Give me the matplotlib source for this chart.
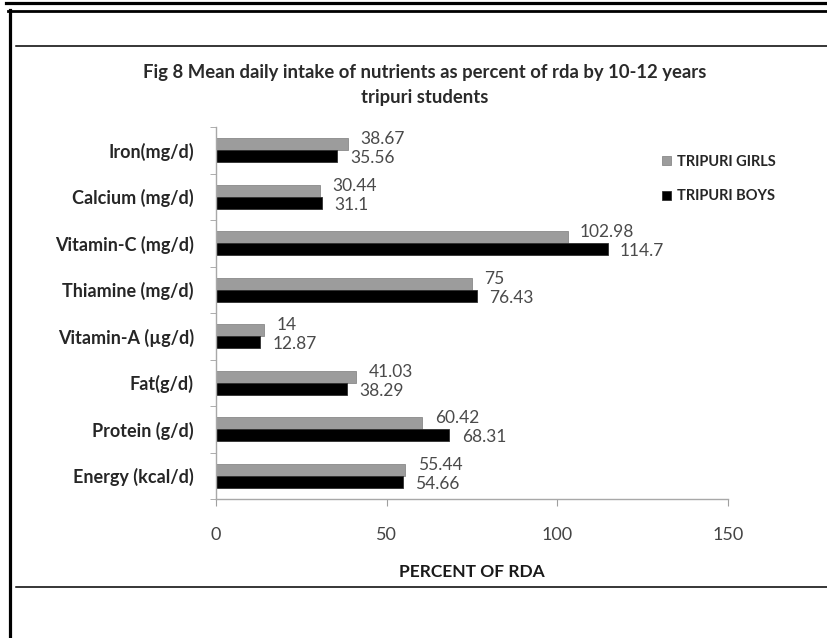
import numpy as np
import matplotlib.pyplot as plt
from matplotlib.lines import Line2D

plt.rcParams['font.family'] = ['Lato', 'DejaVu Sans']

nutrients = ['Energy (kcal/d)', 'Protein (g/d)', 'Fat(g/d)', 'Vitamin-A (\u00b5g/d)',
             'Thiamine (mg/d)', 'Vitamin-C (mg/d)', 'Calcium (mg/d)', 'Iron(mg/d)']
girls = [55.44, 60.42, 41.03, 14, 75, 102.98, 30.44, 38.67]
boys = [54.66, 68.31, 38.29, 12.87, 76.43, 114.7, 31.1, 35.56]
girls_text = ['55.44', '60.42', '41.03', '14', '75', '102.98', '30.44', '38.67']
boys_text = ['54.66', '68.31', '38.29', '12.87', '76.43', '114.7', '31.1', '35.56']
x_ticks = [0, 50, 100, 150]

W, H = 828, 638
fig = plt.figure(figsize=(W / 100, H / 100), dpi=100)

# outer frame lines
def hline(y, x0, x1, lw):
    fig.add_artist(Line2D([x0 / W, x1 / W], [1 - y / H, 1 - y / H],
                          transform=fig.transFigure, color='black', lw=lw))

hline(2.5, 6, W, 2.3)
hline(10.5, 8, W, 2.0)
hline(46, 16, W, 1.1)
hline(587, 16, W, 1.1)
fig.add_artist(Line2D([10 / W, 10 / W], [1 - 10 / H, 0], transform=fig.transFigure,
                      color='black', lw=2.3))

ax = fig.add_axes([216 / W, 1 - 499 / H, 512 / W, 372 / H])

y = np.arange(len(nutrients))
h = 0.26
bg = ax.barh(y + 0.13, girls, height=h, color='#9c9c9c', edgecolor='#8a8a8a',
             lw=0.6, label='TRIPURI GIRLS')
bb = ax.barh(y - 0.13, boys, height=h, color='black', edgecolor='#303030',
             lw=0.6, label='TRIPURI BOYS')

for i in range(len(nutrients)):
    ax.annotate(girls_text[i], (girls[i], y[i] + 0.13), xytext=(9, 3.5),
                textcoords='offset points', va='center', ha='left',
                fontsize=12.5, color='#4a4a4a')
    ax.annotate(boys_text[i], (boys[i], y[i] - 0.13), xytext=(9, -1.5),
                textcoords='offset points', va='center', ha='left',
                fontsize=12.5, color='#4a4a4a')

ax.set_xlim(0, 150)
ax.set_ylim(-0.5, len(nutrients) - 0.5)
ax.set_xticks(x_ticks)
ax.set_xticklabels([str(t) for t in x_ticks], fontsize=13, color='#444444')
ax.set_yticks(y)
ax.set_yticklabels(nutrients, fontsize=13, fontweight='bold', color='#262626')
ax.set_yticks(np.arange(len(nutrients) + 1) - 0.5, minor=True)
ax.tick_params(axis='y', which='major', length=0, pad=16)
ax.tick_params(axis='y', which='minor', length=4, color='#a0a0a0')
ax.tick_params(axis='x', length=5, color='#a0a0a0', pad=15)

for s in ['top', 'right']:
    ax.spines[s].set_visible(False)
for s in ['left', 'bottom']:
    ax.spines[s].set_color('#a8a8a8')
    ax.spines[s].set_linewidth(1.0)

ax.set_xlabel('PERCENT OF RDA', fontsize=12.5, fontweight='bold', color='#1a1a1a',
              labelpad=15)

fig.text(0.513, 1 - 85 / H,
         'Fig 8 Mean daily intake of nutrients as percent of rda by 10-12 years\ntripuri students',
         ha='center', va='center', fontsize=13.3, fontweight='bold', color='#2a2a2a',
         linespacing=1.55)

ax.legend(handles=[bg, bb], loc='upper left', bbox_to_anchor=(662 / W, 1 - 155 / H),
          bbox_transform=fig.transFigure, frameon=False,
          prop={'weight': 'bold', 'size': 10.5}, handlelength=0.6, handleheight=0.6,
          handletextpad=0.4, labelspacing=1.4, borderpad=0, borderaxespad=0,
          labelcolor='#262626')

fig.savefig('out.png', dpi=100)
